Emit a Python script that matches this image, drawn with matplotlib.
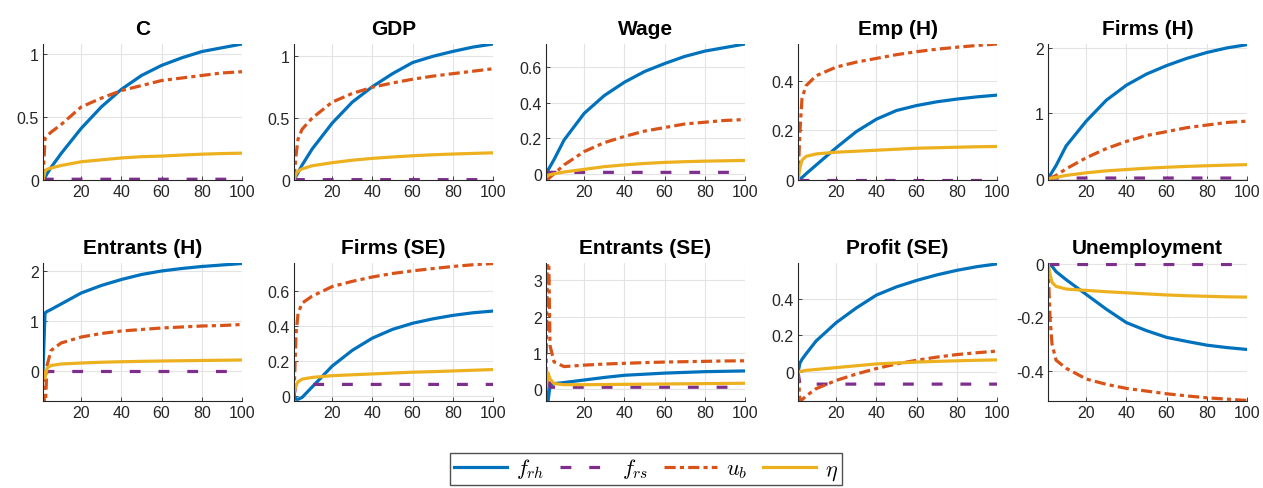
import matplotlib
matplotlib.use('Agg')
import matplotlib.pyplot as plt
import matplotlib.ticker as ticker

plt.rcParams['font.family'] = ['Liberation Sans', 'DejaVu Sans']
plt.rcParams['mathtext.fontset'] = 'cm'
plt.rcParams['axes.unicode_minus'] = False

t = [1, 2, 3, 5, 10, 20, 30, 40, 50, 60, 70, 80, 90, 100]

titles = ['C', 'GDP', 'Wage', 'Emp (H)', 'Firms (H)',
          'Entrants (H)', 'Firms (SE)', 'Entrants (SE)', 'Profit (SE)', 'Unemployment']
labels = ['$f_{rh}$', '$f_{rs}$', '$u_b$', r'$\eta$']

# C
c_frh = [0, 0.02, 0.05, 0.1, 0.21, 0.41, 0.58, 0.72, 0.83, 0.91, 0.97, 1.02, 1.05, 1.08]
c_frs = [0, 0.006, 0.006, 0.006, 0.006, 0.006, 0.006, 0.006, 0.006, 0.006, 0.006, 0.006, 0.006, 0.006]
c_ub = [0, 0.33, 0.35, 0.38, 0.44, 0.58, 0.65, 0.71, 0.75, 0.79, 0.81, 0.83, 0.85, 0.86]
c_eta = [0, 0.07, 0.085, 0.095, 0.115, 0.145, 0.16, 0.175, 0.185, 0.19, 0.198, 0.205, 0.21, 0.213]

# GDP
gdp_frh = [0, 0.03, 0.06, 0.12, 0.25, 0.46, 0.63, 0.755, 0.86, 0.95, 1.0, 1.04, 1.075, 1.10]
gdp_frs = [0, 0.003, 0.003, 0.003, 0.003, 0.003, 0.003, 0.003, 0.003, 0.003, 0.003, 0.003, 0.003, 0.003]
gdp_ub = [0, 0.2, 0.33, 0.41, 0.5, 0.63, 0.7, 0.75, 0.785, 0.815, 0.84, 0.86, 0.88, 0.90]
gdp_eta = [0, 0.05, 0.07, 0.09, 0.115, 0.14, 0.16, 0.175, 0.186, 0.196, 0.204, 0.21, 0.215, 0.22]

# Wage
wage_frh = [0, 0.02, 0.04, 0.08, 0.19, 0.34, 0.44, 0.515, 0.575, 0.62, 0.66, 0.69, 0.71, 0.73]
wage_frs = [0, 0.008, 0.008, 0.008, 0.008, 0.008, 0.008, 0.008, 0.008, 0.008, 0.008, 0.008, 0.008, 0.008]
wage_ub = [-0.035, -0.03, -0.02, 0.0, 0.05, 0.125, 0.175, 0.21, 0.24, 0.26, 0.28, 0.29, 0.30, 0.305]
wage_eta = [-0.01, -0.008, -0.005, 0.0, 0.01, 0.025, 0.04, 0.05, 0.058, 0.064, 0.068, 0.071, 0.073, 0.075]

# Emp (H)
emp_frh = [0, 0.005, 0.01, 0.025, 0.06, 0.13, 0.195, 0.245, 0.28, 0.3, 0.315, 0.326, 0.335, 0.342]
emp_frs = [0, 0, 0, 0, 0, 0, 0, 0, 0, 0, 0, 0, 0, 0]
emp_ub = [0, 0.2, 0.33, 0.38, 0.42, 0.455, 0.475, 0.49, 0.505, 0.517, 0.527, 0.535, 0.542, 0.548]
emp_eta = [0, 0.05, 0.08, 0.095, 0.105, 0.112, 0.116, 0.12, 0.124, 0.128, 0.13, 0.132, 0.134, 0.135]

# Firms (H)
firmh_frh = [0, 0.05, 0.1, 0.2, 0.5, 0.88, 1.2, 1.43, 1.6, 1.73, 1.84, 1.93, 2.0, 2.05]
firmh_frs = [0, 0.01, 0.01, 0.01, 0.01, 0.01, 0.01, 0.01, 0.01, 0.01, 0.01, 0.01, 0.01, 0.01]
firmh_ub = [-0.02, 0.0, 0.02, 0.05, 0.15, 0.32, 0.46, 0.57, 0.66, 0.72, 0.78, 0.82, 0.86, 0.88]
firmh_eta = [0, 0.005, 0.01, 0.02, 0.05, 0.09, 0.12, 0.14, 0.16, 0.175, 0.188, 0.198, 0.207, 0.215]

# Entrants (H)
enth_frh = [0, 1.15, 1.18, 1.22, 1.33, 1.55, 1.7, 1.82, 1.92, 1.99, 2.04, 2.08, 2.11, 2.14]
enth_frs = [0, 0, 0, 0, 0, 0, 0, 0, 0, 0, 0, 0, 0, 0]
enth_ub = [0, -0.9, 0.1, 0.4, 0.55, 0.67, 0.74, 0.79, 0.82, 0.85, 0.87, 0.89, 0.9, 0.92]
enth_eta = [0, -0.15, 0.05, 0.1, 0.13, 0.15, 0.165, 0.175, 0.183, 0.19, 0.195, 0.2, 0.205, 0.21]

# Firms (SE)
firmse_frh = [0, -0.02, -0.02, -0.01, 0.05, 0.17, 0.26, 0.33, 0.38, 0.415, 0.44, 0.46, 0.475, 0.485]
firmse_frs = [0, 0.065, 0.065, 0.065, 0.065, 0.065, 0.065, 0.065, 0.065, 0.065, 0.065, 0.065, 0.065, 0.065]
firmse_ub = [0, 0.35, 0.47, 0.53, 0.57, 0.625, 0.655, 0.68, 0.7, 0.715, 0.728, 0.74, 0.75, 0.757]
firmse_eta = [0.02, 0.06, 0.08, 0.095, 0.105, 0.115, 0.12, 0.125, 0.13, 0.135, 0.138, 0.142, 0.146, 0.15]

# Entrants (SE)
entse_frh = [0, -0.35, 0.1, 0.15, 0.18, 0.25, 0.32, 0.38, 0.41, 0.44, 0.46, 0.48, 0.49, 0.5]
entse_frs = [0, 0.5, 0.05, 0.05, 0.05, 0.05, 0.05, 0.05, 0.05, 0.05, 0.05, 0.05, 0.05, 0.05]
entse_ub = [0.3, 5.0, 1.2, 0.75, 0.62, 0.66, 0.69, 0.71, 0.73, 0.745, 0.755, 0.765, 0.775, 0.78]
entse_eta = [0, 0.45, 0.28, 0.15, 0.12, 0.12, 0.125, 0.13, 0.135, 0.14, 0.145, 0.15, 0.155, 0.16]

# Profit (SE)
prof_frh = [0, 0.05, 0.07, 0.1, 0.17, 0.27, 0.35, 0.42, 0.465, 0.5, 0.53, 0.555, 0.575, 0.59]
prof_frs = [0, -0.065, -0.065, -0.065, -0.065, -0.065, -0.065, -0.065, -0.065, -0.065, -0.065, -0.065, -0.065, -0.065]
prof_ub = [0, -0.155, -0.15, -0.13, -0.09, -0.045, -0.01, 0.02, 0.045, 0.065, 0.082, 0.096, 0.106, 0.115]
prof_eta = [0, 0.003, 0.006, 0.01, 0.015, 0.025, 0.035, 0.045, 0.05, 0.055, 0.059, 0.062, 0.065, 0.067]

# Unemployment
unemp_frh = [0, -0.005, -0.01, -0.03, -0.06, -0.115, -0.17, -0.22, -0.25, -0.275, -0.29, -0.304, -0.313, -0.32]
unemp_frs = [0, 0, 0, 0, 0, 0, 0, 0, 0, 0, 0, 0, 0, 0]
unemp_ub = [0, -0.2, -0.3, -0.36, -0.39, -0.43, -0.45, -0.465, -0.475, -0.485, -0.493, -0.5, -0.505, -0.51]
unemp_eta = [0, -0.04, -0.07, -0.085, -0.095, -0.1, -0.105, -0.109, -0.113, -0.117, -0.12, -0.122, -0.124, -0.125]

panels = [
    (c_frh, c_frs, c_ub, c_eta),
    (gdp_frh, gdp_frs, gdp_ub, gdp_eta),
    (wage_frh, wage_frs, wage_ub, wage_eta),
    (emp_frh, emp_frs, emp_ub, emp_eta),
    (firmh_frh, firmh_frs, firmh_ub, firmh_eta),
    (enth_frh, enth_frs, enth_ub, enth_eta),
    (firmse_frh, firmse_frs, firmse_ub, firmse_eta),
    (entse_frh, entse_frs, entse_ub, entse_eta),
    (prof_frh, prof_frs, prof_ub, prof_eta),
    (unemp_frh, unemp_frs, unemp_ub, unemp_eta),
]

ylims = [(0, 1.08), (0, 1.10), (-0.035, 0.73), (0, 0.548), (-0.02, 2.06),
         (-0.61, 2.15), (-0.03, 0.76), (-0.33, 3.48), (-0.157, 0.595), (-0.512, 0.002)]
yticks = [[0, 0.5, 1], [0, 0.5, 1], [0, 0.2, 0.4, 0.6], [0, 0.2, 0.4], [0, 1, 2],
          [0, 1, 2], [0, 0.2, 0.4, 0.6], [0, 1, 2, 3], [0, 0.2, 0.4], [-0.4, -0.2, 0]]
xticks = [20, 40, 60, 80, 100]

colors = ['#0072BD', '#7E2F8E', '#D95319', '#EDB120']
styles = ['-', (0, (3.4, 5.6)), (0, (3.5, 1.3, 1.3, 1.3)), '-']

fig = plt.figure(figsize=(12.63, 4.89), dpi=100)

lefts = [43, 294, 546, 798, 1048]
W, H = 1263, 489
axes_w = 199
rows = [(45, 181), (264, 402)]

handles = []
for i, (title, series) in enumerate(zip(titles, panels)):
    r, c = divmod(i, 5)
    top, bot = rows[r]
    ax = fig.add_axes([lefts[c] / W, 1 - bot / H, axes_w / W, (bot - top) / H])
    for j, y in enumerate(series):
        ln, = ax.plot(t, y, color=colors[j], lw=2.3, linestyle=styles[j], label=labels[j])
        if i == 0:
            handles.append(ln)
    ax.set_xlim(1, 100)
    ax.set_ylim(*ylims[i])
    ax.set_xticks(xticks)
    ax.set_yticks(yticks[i])
    ax.yaxis.set_major_formatter(ticker.FuncFormatter(lambda v, pos: f'{v:g}'))
    ax.grid(True, color='#e3e3e3', lw=0.8)
    ax.set_axisbelow(True)
    for s in ['top', 'right']:
        ax.spines[s].set_visible(False)
    for s in ['left', 'bottom']:
        ax.spines[s].set_color('#262626')
        ax.spines[s].set_linewidth(0.8)
    ax.tick_params(direction='in', length=3, width=0.6, labelsize=11.5,
                   colors='#262626', pad=3)
    ax.set_title(title, fontsize=15, fontweight='bold', pad=7)

fig.legend(handles=handles, labels=labels, loc='center', ncol=4,
           bbox_to_anchor=(0.5115, 1 - 470 / H), fontsize=16, frameon=True,
           fancybox=False, edgecolor='#262626', handlelength=2.4,
           columnspacing=0.7, handletextpad=0.4, borderpad=0.15)

plt.savefig('out.png', dpi=100)
plt.close()
